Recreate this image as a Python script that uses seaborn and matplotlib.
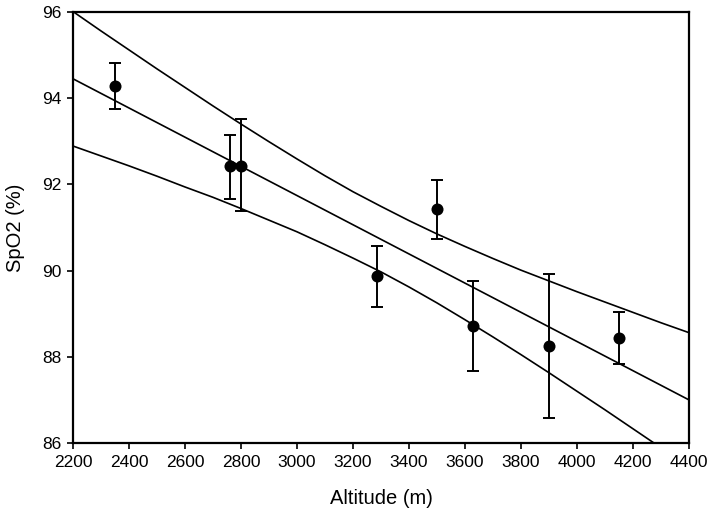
# SpO2 vs altitude with regression line and 95% confidence band

import numpy as np
import pandas as pd
import matplotlib
matplotlib.use('Agg')
import matplotlib.pyplot as plt
import seaborn as sns

# Data
altitude = [2350, 2760, 2800, 3285, 3500, 3630, 3900, 4150]
spo2 = [94.28, 92.42, 92.43, 89.87, 91.43, 88.72, 88.25, 88.43]
err_top = [94.82, 93.15, 93.52, 90.57, 92.10, 89.76, 89.91, 89.03]
err_bottom = [93.75, 91.65, 91.38, 89.15, 90.73, 87.67, 86.58, 87.83]

# regression line
fit_x = [2200, 4400]
fit_y = [94.45, 87.0]

# confidence band, read every 100 m
band_x = [2200, 2300, 2400, 2500, 2600, 2700, 2800, 2900, 3000, 3100, 3200, 3300,
          3400, 3500, 3600, 3700, 3800, 3900, 4000, 4100, 4200, 4300, 4400]
upper_y = [96.01, 95.56, 95.12, 94.68, 94.25, 93.82, 93.40, 92.99, 92.59, 92.20, 91.83, 91.49,
           91.16, 90.85, 90.56, 90.28, 90.01, 89.76, 89.51, 89.27, 89.03, 88.79, 88.56]
lower_y = [92.89, 92.66, 92.43, 92.19, 91.94, 91.70, 91.44, 91.17, 90.90, 90.60, 90.29, 89.97,
           89.62, 89.25, 88.86, 88.46, 88.05, 87.63, 87.20, 86.77, 86.33, 85.89, 85.44]

sns.set_style('ticks')
plt.rcParams['font.family'] = ['Liberation Sans', 'DejaVu Sans']

fig = plt.figure(figsize=(7.11, 5.24), dpi=100)
ax = fig.add_axes([0.1027, 0.1546, 0.8663, 0.8225])

pts = pd.DataFrame({'altitude': altitude, 'spo2': spo2})

# lines: fit and confidence band
sns.lineplot(x=fit_x, y=fit_y, color='black', lw=1.2, ax=ax)
sns.lineplot(x=band_x, y=upper_y, color='black', lw=1.2, ax=ax)
sns.lineplot(x=band_x, y=lower_y, color='black', lw=1.2, ax=ax)

# error bars
yerr = [np.array(spo2) - np.array(err_bottom), np.array(err_top) - np.array(spo2)]
ax.errorbar(altitude, spo2, yerr=yerr, fmt='none', ecolor='black',
            elinewidth=1.4, capsize=4.5, capthick=1.4, zorder=3)

sns.scatterplot(data=pts, x='altitude', y='spo2', color='black', s=75,
                linewidth=0, zorder=4, ax=ax)

ax.set_xlim(2200, 4400)
ax.set_ylim(86, 96)
ax.set_xticks(np.arange(2200, 4401, 200))
ax.set_yticks(np.arange(86, 97, 2))
ax.tick_params(axis='both', direction='out', length=4.5, width=1.2,
               labelsize=12.5, color='black', labelcolor='black', pad=4)
ax.tick_params(top=False, right=False)
for sp in ax.spines.values():
    sp.set_visible(True)
    sp.set_linewidth(1.6)
    sp.set_color('black')

ax.set_xlabel('Altitude (m)', fontsize=14.5, labelpad=14, color='black')
ax.set_ylabel('SpO2 (%)', fontsize=14.5, labelpad=12, color='black')

fig.savefig('out.png', dpi=100)
